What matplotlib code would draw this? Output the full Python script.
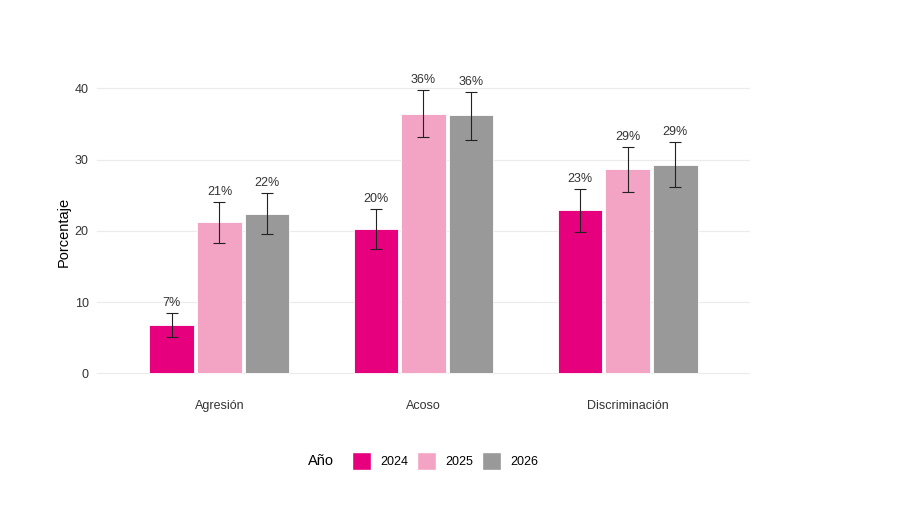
import numpy as np
import matplotlib
matplotlib.use("Agg")
import matplotlib.pyplot as plt
from matplotlib.patches import Patch

plt.rcParams["font.family"] = ["Liberation Sans", "DejaVu Sans"]

categorias = ["Agresión", "Acoso", "Discriminación"]
anios = ["2024", "2025", "2026"]
colores = ["#E6007E", "#F3A3C4", "#999999"]

# porcentaje por año (filas) y categoría (columnas)
valores = [
    [6.8, 20.3, 22.9],
    [21.2, 36.4, 28.7],
    [22.3, 36.2, 29.3],
]
err_sup = [
    [8.5, 23.1, 25.8],
    [24.0, 39.8, 31.8],
    [25.3, 39.5, 32.4],
]
err_inf = [
    [5.1, 17.5, 19.9],
    [18.3, 33.1, 25.5],
    [19.5, 32.8, 26.1],
]
etiquetas = [
    ["7%", "20%", "23%"],
    ["21%", "36%", "29%"],
    ["22%", "36%", "29%"],
]

fig = plt.figure(figsize=(9, 5.07), dpi=100)
ax = fig.add_axes([97 / 900, 1 - 387.5 / 507, (750 - 97) / 900, (387.5 - 75.5) / 507])

x = np.arange(1, len(categorias) + 1)
paso = 0.234
ancho = 0.218
for i, anio in enumerate(anios):
    pos = x + (i - 1) * paso
    v = np.array(valores[i])
    lo = v - np.array(err_inf[i])
    hi = np.array(err_sup[i]) - v
    ax.bar(pos, v, width=ancho, color=colores[i], edgecolor="white", linewidth=0.6, zorder=2)
    ax.errorbar(pos, v, yerr=[lo, hi], fmt="none", ecolor="#222222", elinewidth=0.8,
                capsize=4, capthick=0.8, zorder=3)
    for px, top, lab in zip(pos, err_sup[i], etiquetas[i]):
        ax.annotate(lab, (px, top), xytext=(0, 3), textcoords="offset points",
                    ha="center", va="bottom", fontsize=9, color="#333333")

ax.set_xlim(0.4, 3.6)
ax.set_ylim(-2, 41.8)
ax.set_yticks([0, 10, 20, 30, 40])
ax.set_xticks(x)
ax.set_xticklabels(categorias)
ax.grid(axis="y", color="#EBEBEB", linewidth=0.8, zorder=0)
ax.set_axisbelow(True)
for s in ax.spines.values():
    s.set_visible(False)
ax.tick_params(length=0, labelsize=9, labelcolor="#333333")
ax.tick_params(axis="x", pad=9)
ax.tick_params(axis="y", pad=6)
ax.set_ylabel("Porcentaje", fontsize=10.5, color="black", labelpad=3)

# leyenda abajo, título a la izquierda
handles = [Patch(facecolor=c, edgecolor="white", label=a) for c, a in zip(colores, anios)]
fig.legend(handles=handles, loc="center", bbox_to_anchor=(445 / 900, 1 - 461 / 507),
           ncol=3, frameon=False, fontsize=9, handlelength=1.5, handleheight=1.9,
           handletextpad=0.75, columnspacing=0.7, borderpad=0)
fig.text(308 / 900, 1 - 461 / 507, "Año", ha="left", va="center", fontsize=10.5, color="black")

fig.savefig("out.png", dpi=100)
